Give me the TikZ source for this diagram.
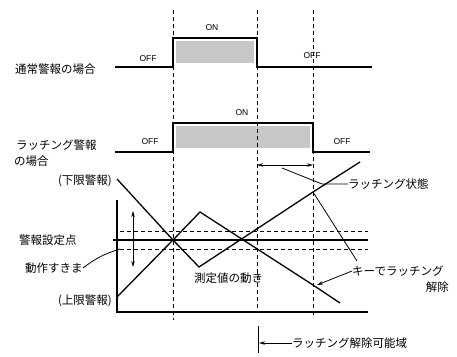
\documentclass[tikz,border=0pt]{standalone}
\usepackage{fontspec}
\setmainfont{Liberation Sans}
\newfontfamily\jp{Noto Sans CJK JP}
\usetikzlibrary{arrows.meta}
\begin{document}
\begin{tikzpicture}[x=1pt,y=-1pt,
  sig/.style={line width=1.3pt},
  guide/.style={line width=0.9pt, dash pattern=on 4pt off 3pt},
  thinl/.style={line width=0.8pt},
  jl/.style={font=\jp\fontsize{11.5}{13}\selectfont, inner sep=0pt},
  st/.style={font=\fontsize{8.5}{10}\selectfont, inner sep=0pt},
  tip/.tip={Stealth[length=6pt,width=3.5pt]},
  arr/.style={-tip, line width=0.8pt},
  darr/.style={tip-tip, line width=0.8pt},
  shade/.style={fill=black!22}]
\useasboundingbox (0,0) rectangle (457,356);
% shaded ON periods
\fill[shade] (176,41) rectangle (254,63);
\fill[shade] (176,126) rectangle (310,148);
% guide coordinates
\coordinate (d1t) at (173,10); \coordinate (d1b) at (173,320);
\coordinate (d2t) at (257,10); \coordinate (d2b) at (257,312);
\coordinate (d3t) at (313,10); \coordinate (d3b) at (313,318);
\draw[guide] (d1t) -- (d1b);
\draw[guide] (d2t) -- (d2b);
\draw[guide] (d3t) -- (d3b);
% signals
\coordinate (s1a) at (115,67); \coordinate (s1b) at (173,38);
\coordinate (s1c) at (257,67); \coordinate (s1d) at (372,67);
\draw[sig] (s1a) -| (s1b) -| (s1c) -- (s1d);
\coordinate (s2a) at (115,152); \coordinate (s2b) at (173,123);
\coordinate (s2c) at (313,152); \coordinate (s2d) at (370,152);
\draw[sig] (s2a) -| (s2b) -| (s2c) -- (s2d);
% state labels
\node[st] (on1) at (212,28) {ON};
\node[st] (off1) at (148,59) {OFF};
\node[st] (off2) at (312,56) {OFF};
\node[st] (on2) at (242,113) {ON};
\node[st] (off3) at (150,142) {OFF};
\node[st] (off4) at (342,142) {OFF};
% chart frame
\coordinate (ax1) at (117,200); \coordinate (ax2) at (117,312); \coordinate (ax3) at (368,312);
\draw[sig] (ax1) -- (ax2) -- (ax3);
\coordinate (sp1) at (113,240); \coordinate (sp2) at (368,240);
\draw[sig] (sp1) -- (sp2);
\coordinate (h1a) at (120,231); \coordinate (h1b) at (368,231);
\coordinate (h2a) at (120,249); \coordinate (h2b) at (368,249);
\draw[guide] (h1a) -- (h1b);
\draw[guide] (h2a) -- (h2b);
\coordinate (ga) at (133,211); \coordinate (gb) at (133,267);
\draw[darr] (ga) -- (gb);
% measured value paths
\coordinate (x0) at (173,240);
\coordinate (a1) at (117,179); \coordinate (a2) at (199,267);
\coordinate (a3) at (313,192); \coordinate (a4) at (360,162);
\draw[sig] (a1) -- (x0) -- (a2) -- (a3) -- (a4);
\coordinate (b1) at (117,297); \coordinate (b2) at (200,212);
\coordinate (b3) at (313,285); \coordinate (b4) at (340,303);
\draw[sig] (b1) -- (x0) -- (b2) -- (b3) -- (b4);
% labels
\node[jl, anchor=west] (l1) at (15,69) {通常警報の場合};
\node[jl, anchor=west] (l2) at (16,145) {ラッチング警報};
\node[jl, anchor=west] (l3) at (14,161) {の場合};
\node[jl, anchor=east] (l4) at (112,181) {(下限警報)};
\node[jl, anchor=east] (l5) at (112,301) {(上限警報)};
\node[jl, anchor=west] (l6) at (19,240) {警報設定点};
\node[jl, anchor=west] (l7) at (25,268) {動作すきま};
\node[jl, anchor=west] (l8) at (194,278) {測定値の動き};
\node[jl, anchor=west] (l9) at (348,184) {ラッチング状態};
\node[jl, anchor=west] (l10) at (352,271) {キーでラッチング};
\node[jl, anchor=east] (l11) at (449,287) {解除};
\node[jl, anchor=west] (l12) at (292,343) {ラッチング解除可能域};
% leaders
\draw[thinl] (l7.east) to[bend left=10] (h2a);
\coordinate (lt1) at (257,165); \coordinate (lt2) at (313,165);
\draw[darr] (lt1) -- (lt2);
\coordinate (lk1) at (282,168); \coordinate (lk2) at (322,184);
\draw[thinl] (lk1) -- (lk2) -- (l9.west);
\coordinate (kb) at (357,261);
\draw[thinl] (a3) -- (kb);
\coordinate (ka) at (317,285);
\draw[arr] (l10.west) -- (ka);
\coordinate (rv1) at (258,326); \coordinate (rv2) at (258,353);
\draw[thinl] (rv1) -- (rv2);
\coordinate (ra) at (259,343);
\draw[arr] (l12.west) -- (ra);
\end{tikzpicture}
\end{document}
